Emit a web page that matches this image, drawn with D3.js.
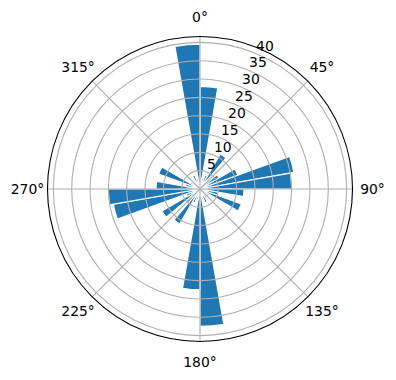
<!DOCTYPE html>
<html><head><meta charset="utf-8">
<script src="https://cdn.jsdelivr.net/npm/d3@7"></script>
<style>body{margin:0;background:#fff}svg{display:block}</style>
</head><body>
<svg id="c" width="396" height="380"></svg>
<script>
const binStarts = d3.range(0, 360, 10);
const counts = [28, 3, 4, 11, 4, 6, 11, 26, 25, 12, 5, 12, 3, 2, 3, 4, 2, 37.5,
                27.5, 3, 4, 11, 5, 12, 4, 24, 25, 12, 4, 12, 3, 3, 2, 4, 3, 39.5];
const rTicks = [5, 10, 15, 20, 25, 30, 35, 40];
const thetaTicks = [0, 45, 90, 135, 180, 225, 270, 315];
const rMax = 41.6;

const cx = 200, cy = 189, R = 152.5;
const svg = d3.select("#c");
const g = svg.append("g").attr("transform", `translate(${cx},${cy})`);
const r = d3.scaleLinear().domain([0, rMax]).range([0, R]);
const a = d3.scaleLinear().domain([0, 360]).range([0, 2 * Math.PI]);
const font = "DejaVu Sans, sans-serif";

const arc = d3.arc().innerRadius(0)
  .outerRadius(d => r(d.v))
  .startAngle(d => a(d.s)).endAngle(d => a(d.s + 10));
g.selectAll("path.bar").data(binStarts.map((s, i) => ({s, v: counts[i]})))
  .enter().append("path").attr("class", "bar")
  .attr("d", arc).attr("fill", "#1f77b4")
  .attr("stroke", "#fff").attr("stroke-width", 1.2).attr("stroke-linejoin", "miter");

// grid
g.selectAll("circle.grid").data(rTicks).enter().append("circle")
  .attr("r", d => r(d)).attr("fill", "none").attr("stroke", "#b0b0b0").attr("stroke-width", 1.1);
g.selectAll("line.grid").data(thetaTicks).enter().append("line")
  .attr("x1", 0).attr("y1", 0)
  .attr("x2", d => R * Math.sin(a(d))).attr("y2", d => -R * Math.cos(a(d)))
  .attr("stroke", "#b0b0b0").attr("stroke-width", 1.1);
g.append("circle").attr("r", R).attr("fill", "none").attr("stroke", "#000").attr("stroke-width", 1.1);

// theta labels
g.selectAll("text.th").data(thetaTicks).enter().append("text")
  .attr("x", d => (R + 20) * Math.sin(a(d))).attr("y", d => -(R + 20) * Math.cos(a(d)))
  .attr("text-anchor", "middle").attr("dominant-baseline", "central")
  .attr("font-family", font).attr("font-size", "13.9px").attr("fill", "#000")
  .text(d => d + "°");

// r labels
const lab = a(22.5);
g.selectAll("text.rl").data(rTicks).enter().append("text")
  .attr("x", d => r(d) * Math.sin(lab)).attr("y", d => -r(d) * Math.cos(lab) - 3)
  .attr("text-anchor", "start")
  .attr("font-family", font).attr("font-size", "13.9px").attr("fill", "#000")
  .text(d => d);
</script>
</body></html>
